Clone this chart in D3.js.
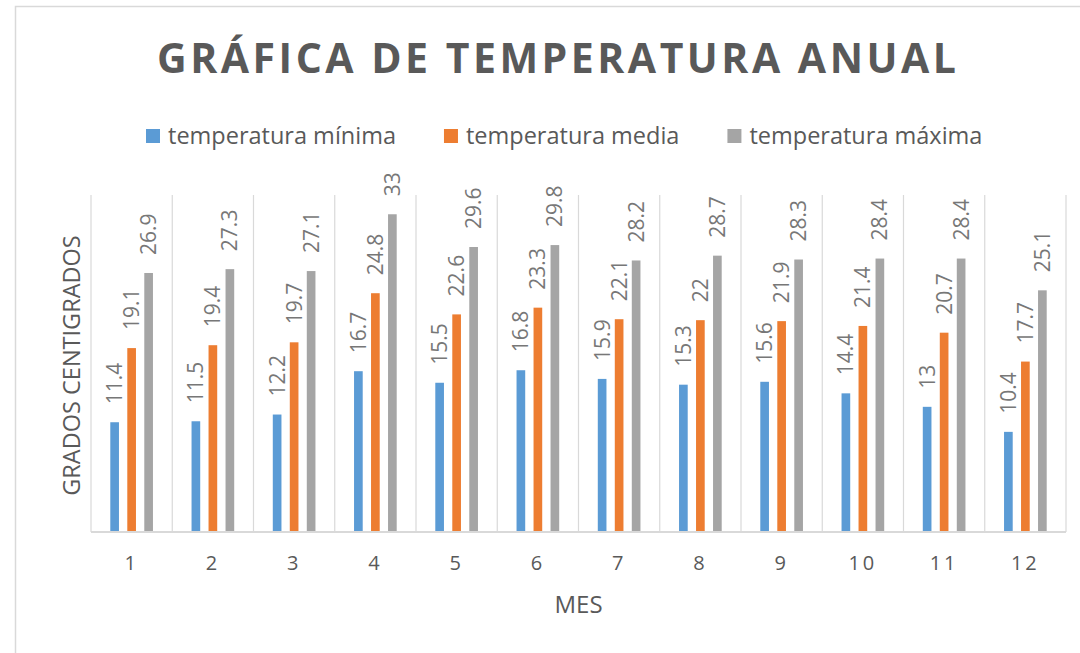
<!DOCTYPE html>
<html>
<head>
<meta charset="utf-8">
<script src="https://cdn.jsdelivr.net/npm/d3@7"></script>
<style>
  html, body { margin: 0; padding: 0; background: #fff; }
  svg { display: block; font-family: "Open Sans", sans-serif; }
</style>
</head>
<body>
<svg id="chart" width="1080" height="653"></svg>
<script>
var months = ['1', '2', '3', '4', '5', '6', '7', '8', '9', '10', '11', '12'];
var seriesNames = ['temperatura mínima', 'temperatura media', 'temperatura máxima'];
var tempMin = [11.4, 11.5, 12.2, 16.7, 15.5, 16.8, 15.9, 15.3, 15.6, 14.4, 13, 10.4];
var tempMedia = [19.1, 19.4, 19.7, 24.8, 22.6, 23.3, 22.1, 22, 21.9, 21.4, 20.7, 17.7];
var tempMax = [26.9, 27.3, 27.1, 33, 29.6, 29.8, 28.2, 28.7, 28.3, 28.4, 28.4, 25.1];
var colors = ['#5b9bd5', '#ed7d31', '#a5a5a5'];

var series = [tempMin, tempMedia, tempMax];

var svg = d3.select('#chart');
var textColor = '#595959',
    labelColor = '#777777',
    gridColor = '#d9d9d9';

// note: "top" is window.top, so use other names
var plotLeft = 91, plotRight = 1066, plotTop = 195, plotBottom = 532;

// chart frame (runs off the right and bottom edges)
svg.append('rect')
    .attr('x', 15.5).attr('y', 6.5)
    .attr('width', 1200).attr('height', 1000)
    .attr('fill', 'none')
    .attr('stroke', gridColor)
    .attr('stroke-width', 1.5);

var x0 = d3.scaleBand().domain(months).range([plotLeft, plotRight]).paddingInner(0).paddingOuter(0);
var x1 = d3.scaleBand().domain(d3.range(series.length))
    .range([0, x0.bandwidth()])
    .paddingInner(0.49)
    .paddingOuter(1.135);
var y = d3.scaleLinear().domain([0, 35]).range([plotBottom, plotTop]);

// vertical grid at category boundaries
var bounds = months.map(function (m) { return x0(m); }).concat([plotRight]);
svg.append('g').attr('class', 'grid')
    .selectAll('line').data(bounds).enter().append('line')
    .attr('x1', function (d) { return d; })
    .attr('x2', function (d) { return d; })
    .attr('y1', y(35))
    .attr('y2', y(0))
    .attr('stroke', gridColor)
    .attr('stroke-width', 1.2);

// bars
var groups = svg.append('g').selectAll('g.month').data(months).enter().append('g')
    .attr('class', 'month')
    .attr('transform', function (d) { return 'translate(' + x0(d) + ',0)'; });

groups.each(function (m, i) {
    var g = d3.select(this);
    var vals = series.map(function (s, si) { return { s: si, v: s[i] }; });

    g.selectAll('rect').data(vals).enter().append('rect')
        .attr('x', function (d) { return x1(d.s); })
        .attr('width', x1.bandwidth())
        .attr('y', function (d) { return y(d.v); })
        .attr('height', function (d) { return y(0) - y(d.v); })
        .attr('fill', function (d) { return colors[d.s]; });

    g.selectAll('text').data(vals).enter().append('text')
        .attr('transform', function (d) {
            var cx = x1(d.s) + x1.bandwidth() / 2;
            return 'translate(' + cx + ',' + (y(d.v) - 18) + ') rotate(-90)';
        })
        .attr('dy', '0.357em')
        .attr('fill', labelColor)
        .style('font-size', '21px')
        .text(function (d) { return d.v; });
});

// baseline
svg.append('line')
    .attr('x1', plotLeft).attr('x2', plotRight)
    .attr('y1', y(0)).attr('y2', y(0))
    .attr('stroke', gridColor)
    .attr('stroke-width', 1.8);

// category labels
var xAxis = d3.axisBottom(x0).tickSize(0).tickPadding(0);
var axisG = svg.append('g').attr('transform', 'translate(0,' + y(0) + ')').call(xAxis);
axisG.select('.domain').remove();
axisG.selectAll('text')
    .attr('y', 38)
    .attr('dy', 0)
    .attr('fill', textColor)
    .style('font-family', '"Open Sans", sans-serif')
    .style('font-size', '20px')
    .style('letter-spacing', '3px');

// axis titles
svg.append('text')
    .attr('x', (plotLeft + plotRight) / 2).attr('y', 613)
    .attr('text-anchor', 'middle')
    .attr('fill', textColor)
    .style('font-size', '24px')
    .text('MES');

svg.append('text')
    .attr('transform', 'translate(80,' + ((plotTop + plotBottom) / 2 + 2) + ') rotate(-90)')
    .attr('text-anchor', 'middle')
    .attr('fill', textColor)
    .style('font-size', '23.5px')
    .text('GRADOS CENTIGRADOS');

// title
var ls = 3.5;
svg.append('text')
    .attr('x', 556.5 + ls / 2).attr('y', 73.3)
    .attr('text-anchor', 'middle')
    .attr('fill', textColor)
    .style('font-size', '41px')
    .style('font-weight', 'bold')
    .style('letter-spacing', ls + 'px')
    .text('GRÁFICA DE TEMPERATURA ANUAL');

// legend
var legend = svg.append('g').attr('class', 'legend');
var lx = 146;
seriesNames.forEach(function (name, i) {
    legend.append('rect')
        .attr('x', lx).attr('y', 129)
        .attr('width', 14).attr('height', 14)
        .attr('fill', colors[i]);
    var t = legend.append('text')
        .attr('x', lx + 22).attr('y', 144)
        .attr('fill', textColor)
        .style('font-size', '23.5px')
        .text(name);
    lx += 22 + t.node().getComputedTextLength() + 48;
});
</script>
</body>
</html>
